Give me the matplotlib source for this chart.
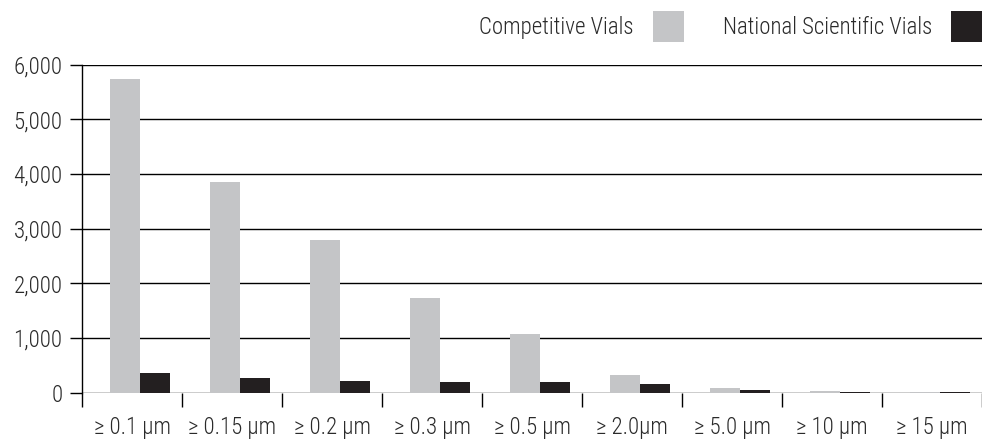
import matplotlib
matplotlib.use("Agg")
import matplotlib.pyplot as plt
from matplotlib.ticker import FuncFormatter, FixedLocator
from matplotlib.patches import Patch
import numpy as np

categories = ["≥ 0.1 µm", "≥ 0.15 µm", "≥ 0.2 µm", "≥ 0.3 µm", "≥ 0.5 µm",
              "≥ 2.0µm", "≥ 5.0 µm", "≥ 10 µm", "≥ 15 µm"]
competitive = [5730, 3850, 2790, 1730, 1075, 330, 90, 35, 15]
national = [360, 270, 215, 195, 195, 165, 50, 15, 15]
series_names = ["Competitive Vials", "National Scientific Vials"]
yticks = [0, 1000, 2000, 3000, 4000, 5000, 6000]

plt.rcParams['font.family'] = ['Roboto Condensed', 'DejaVu Sans']
plt.rcParams['font.weight'] = 300
grey = "#c4c5c7"
dark = "#231f20"
text_col = "#2a2a2a"
FS = 16.5
fs_px = FS * 100 / 72

fig = plt.figure(figsize=(9.82, 4.40), dpi=100)
ax = fig.add_axes([82/982, 47.3/440, 900/982, 328/440])

x = np.arange(len(categories))
w = 0.3
off = 0.08
ax.bar(x + off - w/2, competitive, width=w, color=grey, zorder=3, label=series_names[0])
ax.bar(x + off + w/2, national, width=w, color=dark, zorder=3, label=series_names[1])

ax.set_xlim(-0.5, len(categories) - 0.5)
ax.set_ylim(0, 6000)
for s in ["top", "right", "bottom"]:
    ax.spines[s].set_visible(False)
ax.spines["left"].set_color("black")
ax.spines["left"].set_linewidth(1.0)

ax.set_yticks(yticks)
ax.yaxis.set_major_formatter(FuncFormatter(lambda v, p: f"{int(v):,}"))
for yv in yticks:
    ax.axhline(yv, color="black", linewidth=1.0, zorder=2)
ax.tick_params(axis="y", length=9, width=1.0, color="black", labelsize=FS,
               labelcolor=text_col, pad=5)

ax.xaxis.set_major_locator(FixedLocator(np.arange(len(categories) + 1) - 0.5))
ax.xaxis.set_major_formatter(FuncFormatter(lambda v, p: ""))
ax.xaxis.set_minor_locator(FixedLocator(x))
ax.set_xticklabels(categories, minor=True)
ax.tick_params(axis="x", which="major", length=10, width=1.0, color="black")
ax.tick_params(axis="x", which="minor", length=0, labelsize=FS,
               labelcolor=text_col, pad=17)

hh = (31 / fs_px - 0.245) / 0.65
handles = [Patch(facecolor=grey, edgecolor="none"), Patch(facecolor=dark, edgecolor="none")]
leg = fig.legend(handles, series_names, loc="upper right",
                 bbox_to_anchor=(1.0, 1.0 - 11/440),
                 ncol=2, frameon=False, markerfirst=False, fontsize=FS,
                 handlelength=31/fs_px, handleheight=hh, columnspacing=39/fs_px,
                 handletextpad=19/fs_px, borderaxespad=0.0, borderpad=0.0)
for t in leg.get_texts():
    t.set_color(text_col)

fig.savefig("out.png", dpi=100)
